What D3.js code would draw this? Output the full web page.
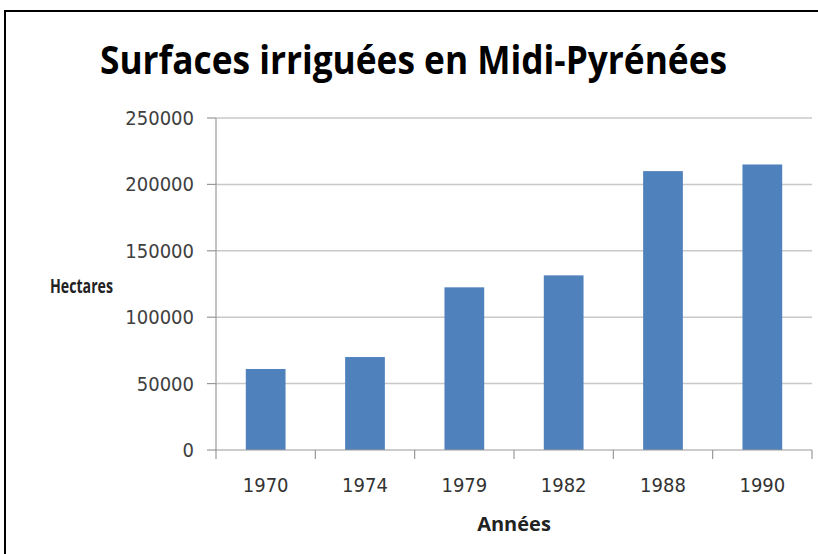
<!DOCTYPE html>
<html>
<head>
<meta charset="utf-8">
<script src="https://cdn.jsdelivr.net/npm/d3@7"></script>
<style>
  body { margin: 0; background: #fff; }
  svg { display: block; }
</style>
</head>
<body>
<div id="chart"></div>
<script>
// Chart data
const years = ["1970", "1974", "1979", "1982", "1988", "1990"];
const hectares = [61000, 70000, 122500, 131500, 210000, 215000];
const yTicks = [0, 50000, 100000, 150000, 200000, 250000];

const width = 818;
const height = 554;

const svg = d3.select("#chart").append("svg")
  .attr("width", width)
  .attr("height", height);

// Outer frame (runs off the right and bottom of the picture)
svg.append("rect")
  .attr("x", 5)
  .attr("y", 11)
  .attr("width", 900)
  .attr("height", 900)
  .attr("fill", "none")
  .attr("stroke", "#000")
  .attr("stroke-width", 2);

const plot = { left: 216, right: 812, top: 118, bottom: 450 };

const x = d3.scaleBand()
  .domain(years)
  .range([plot.left, plot.right])
  .paddingInner(0.6)
  .paddingOuter(0.3);

const y = d3.scaleLinear()
  .domain([0, 250000])
  .range([plot.bottom, plot.top]);

const labelFont = "'DejaVu Sans Condensed', 'DejaVu Sans', sans-serif";
const boldFont = "'Open Sans', 'Noto Sans', sans-serif";

// y tick labels
const yAxis = svg.append("g")
  .attr("transform", `translate(${plot.left},0)`)
  .call(d3.axisLeft(y).tickValues(yTicks).tickSize(0).tickPadding(22).tickFormat(d3.format("d")));
yAxis.select(".domain").remove();
yAxis.selectAll("text")
  .attr("font-family", labelFont)
  .attr("font-size", "20px")
  .attr("fill", "#404040");

// gridlines
svg.append("g")
  .selectAll("line")
  .data(yTicks.filter(d => d > 0))
  .join("line")
  .attr("x1", plot.left)
  .attr("x2", plot.right)
  .attr("y1", d => y(d))
  .attr("y2", d => y(d))
  .attr("stroke", "#c8c8c8")
  .attr("stroke-width", 1.5);

// small tick marks left of the y axis
svg.append("g")
  .selectAll("line")
  .data(yTicks)
  .join("line")
  .attr("x1", plot.left - 9)
  .attr("x2", plot.left)
  .attr("y1", d => y(d))
  .attr("y2", d => y(d))
  .attr("stroke", "#999")
  .attr("stroke-width", 1.2);

// Bars
svg.append("g")
  .selectAll("rect")
  .data(years)
  .join("rect")
  .attr("x", d => x(d))
  .attr("y", (d, i) => y(hectares[i]))
  .attr("width", x.bandwidth())
  .attr("height", (d, i) => y(0) - y(hectares[i]))
  .attr("fill", "#4f81bd");

// y axis line
svg.append("line")
  .attr("x1", plot.left)
  .attr("x2", plot.left)
  .attr("y1", plot.top)
  .attr("y2", plot.bottom + 1)
  .attr("stroke", "#999")
  .attr("stroke-width", 1.2);

// x axis: labels centred under bars, ticks on category boundaries
const xAxis = svg.append("g")
  .attr("transform", `translate(0,${plot.bottom})`)
  .call(d3.axisBottom(x).tickSize(0).tickPadding(28));
xAxis.select(".domain").remove();
xAxis.selectAll("text")
  .attr("font-family", labelFont)
  .attr("font-size", "20px")
  .attr("fill", "#333");

svg.append("line")
  .attr("x1", plot.left - 1)
  .attr("x2", plot.right)
  .attr("y1", plot.bottom)
  .attr("y2", plot.bottom)
  .attr("stroke", "#999")
  .attr("stroke-width", 1.2);

const bounds = years.map(d => x(d) - x.paddingOuter() * x.step()).concat([plot.right]);
svg.append("g")
  .selectAll("line")
  .data(bounds)
  .join("line")
  .attr("x1", d => d)
  .attr("x2", d => d)
  .attr("y1", plot.bottom)
  .attr("y2", plot.bottom + 9)
  .attr("stroke", "#999")
  .attr("stroke-width", 1.2);

// Title, fitted to the width it takes in the reference
const title = svg.append("text")
  .attr("x", 100)
  .attr("y", 74)
  .attr("font-family", boldFont)
  .attr("font-weight", 700)
  .attr("font-size", "39px")
  .attr("fill", "#000")
  .text("Surfaces irriguées en Midi-Pyrénées");
if (title.node().getComputedTextLength() > 627) {
  title.attr("textLength", 627).attr("lengthAdjust", "spacingAndGlyphs");
}

// Axis titles
const hect = svg.append("text")
  .attr("x", 50)
  .attr("y", 293)
  .attr("font-family", boldFont)
  .attr("font-weight", 700)
  .attr("font-size", "20px")
  .attr("fill", "#222")
  .text("Hectares");
if (hect.node().getComputedTextLength() > 63) {
  hect.attr("textLength", 63).attr("lengthAdjust", "spacingAndGlyphs");
}

svg.append("text")
  .attr("x", (plot.left + plot.right) / 2)
  .attr("y", 531)
  .attr("text-anchor", "middle")
  .attr("font-family", boldFont)
  .attr("font-weight", 700)
  .attr("font-size", "20px")
  .attr("fill", "#222")
  .text("Années");
</script>
</body>
</html>
